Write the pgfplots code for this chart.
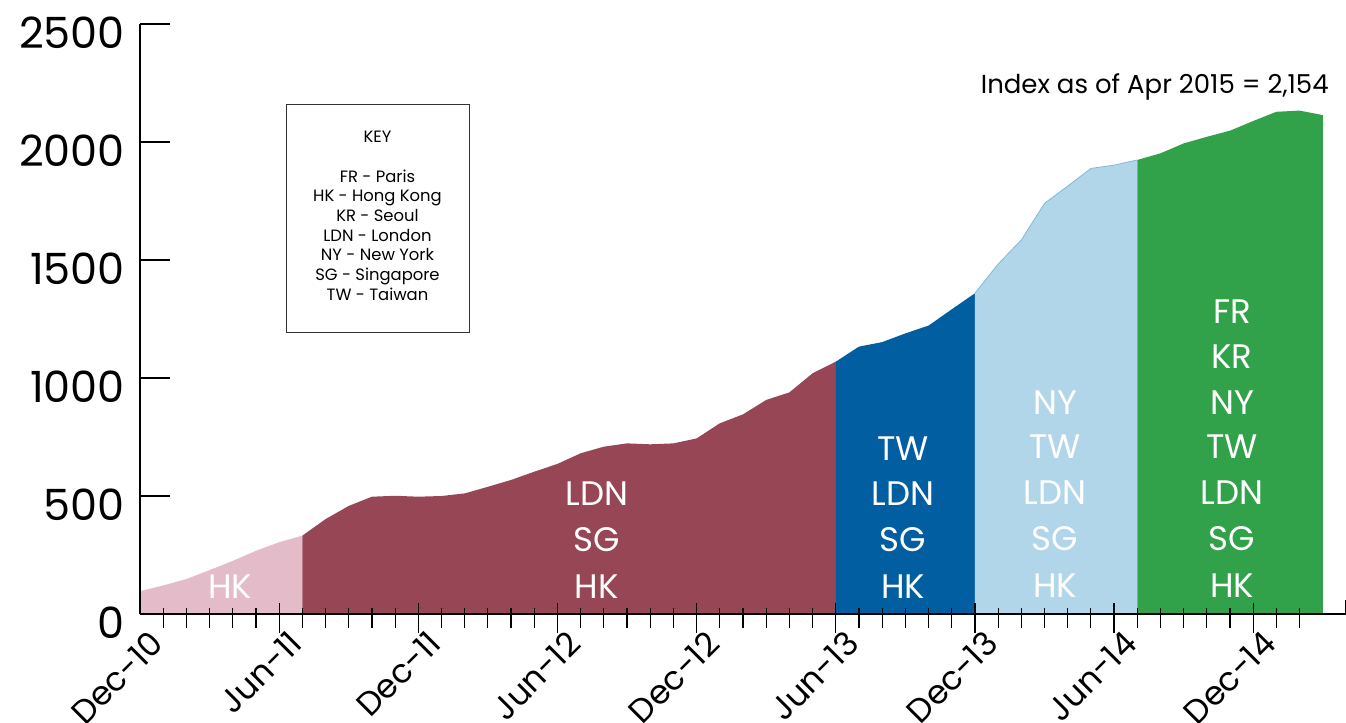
\documentclass[border=0pt]{standalone}
\usepackage{fontspec}
\setmainfont{Poppins}
\usepackage{pgfplots}
\pgfplotsset{compat=1.18}
\definecolor{cpink}{HTML}{E4BBC8}
\definecolor{cmaroon}{HTML}{974655}
\definecolor{cblue}{HTML}{005EA1}
\definecolor{clight}{HTML}{B2D6E9}
\definecolor{cgreen}{HTML}{32A24A}
\tikzset{
  lab/.style={anchor=base, text=white, font=\fontsize{17}{20}\selectfont},
  keyf/.style={anchor=base, font=\fontsize{8.2}{10}\selectfont},
}
\begin{document}
\begin{tikzpicture}
\begin{axis}[
  name=ax, scale only axis, width=603pt, height=295pt,
  xmin=0, xmax=52, ymin=0, ymax=2500,
  axis x line*=bottom, axis y line*=left,
  axis line style={black, line width=0.7pt},
  axis on top,
  ytick={0,500,1000,1500,2000,2500},
  xtick={6,12,...,48},
  xticklabels={Jun-11,Dec-11,Jun-12,Dec-12,Jun-13,Dec-13,Jun-14,Dec-14},
  extra x ticks={0},
  extra x tick labels={Dec-10},
  extra x tick style={xtick style={draw=none}},
  minor xtick={1,...,50},
  major tick length=15pt, minor tick length=10pt,
  xtick align=center, ytick align=inside,
  tick style={black, line width=0.6pt},
  xtick style={yshift=-2pt},
  /pgf/number format/assume math mode=true,
  /pgf/number format/1000 sep={},
  scaled y ticks=false,
  yticklabel style={font=\fontsize{21.5}{24}\selectfont, xshift=-4pt, yshift=-4.5pt},
  xticklabel style={font=\fontsize{16.5}{19}\selectfont, xshift=4pt, yshift=5pt, rotate=45, anchor=north east},
]
% HK
\addplot[fill=cpink, draw=none] coordinates {
(0,97) (1,121) (2,148) (3,186) (4,225) (5,268) (6,304) (7,332)} \closedcycle;
% LDN SG HK
\addplot[fill=cmaroon, draw=none] coordinates {
(7,332) (8,402) (9,458) (10,497) (11,501) (12,497) (13,500) (14,511) (15,539)
(16,568) (17,603) (18,636) (19,681) (20,709) (21,723) (22,719) (23,723) (24,744)
(25,808) (26,846) (27,907) (28,939) (29,1020) (30,1069)} \closedcycle;
% TW LDN SG HK
\addplot[fill=cblue, draw=none] coordinates {
(30,1069) (31,1133) (32,1152) (33,1189) (34,1222) (35,1291) (36,1359)} \closedcycle;
% NY TW LDN SG HK
\addplot[fill=clight, draw=none] coordinates {
(36,1359) (37,1483) (38,1585) (39,1740) (40,1813) (41,1888) (42,1902) (43,1924)} \closedcycle;
\addplot[color=clight!75!cblue, line width=0.4pt] coordinates {
(36,1359) (37,1483) (38,1585) (39,1740) (40,1813) (41,1888) (42,1902) (43,1924)};
% FR KR NY TW LDN SG HK
\addplot[fill=cgreen, draw=none] coordinates {
(43,1924) (44,1952) (45,1994) (46,2022) (47,2048) (48,2089) (49,2128) (50,2133) (51,2114)} \closedcycle;

\node[lab] at (axis cs:3.88,64) {HK};
\node[lab] at (axis cs:19.7,458) {LDN};
\node[lab] at (axis cs:19.7,263) {SG};
\node[lab] at (axis cs:19.7,64) {HK};
\node[lab] at (axis cs:32.9,652) {TW};
\node[lab] at (axis cs:32.9,458) {LDN};
\node[lab] at (axis cs:32.9,263) {SG};
\node[lab] at (axis cs:32.9,64) {HK};
\node[lab] at (axis cs:39.46,847) {NY};
\node[lab] at (axis cs:39.46,661) {TW};
\node[lab] at (axis cs:39.46,466) {LDN};
\node[lab] at (axis cs:39.46,267) {SG};
\node[lab] at (axis cs:39.46,72) {HK};
\node[lab] at (axis cs:47.09,1233) {FR};
\node[lab] at (axis cs:47.09,1042) {KR};
\node[lab] at (axis cs:47.09,847) {NY};
\node[lab] at (axis cs:47.09,657) {TW};
\node[lab] at (axis cs:47.09,462) {LDN};
\node[lab] at (axis cs:47.09,267) {SG};
\node[lab] at (axis cs:47.09,72) {HK};

\draw[black!80, line width=0.5pt] (axis cs:6.30,1191) rectangle (axis cs:14.19,2157);
\node[keyf] at (axis cs:10.24,1996) {KEY};
\node[keyf] at (axis cs:10.24,1830) {FR - Paris};
\node[keyf] at (axis cs:10.24,1747) {HK - Hong Kong};
\node[keyf] at (axis cs:10.24,1664) {KR - Seoul};
\node[keyf] at (axis cs:10.24,1580) {LDN - London};
\node[keyf] at (axis cs:10.24,1497) {NY - New York};
\node[keyf] at (axis cs:10.24,1414) {SG - Singapore};
\node[keyf] at (axis cs:10.24,1330) {TW - Taiwan};

\node[anchor=base east, inner sep=0pt, font=\fontsize{13}{15}\selectfont] at (axis cs:51.27,2207) {Index as of Apr 2015 = 2,154};
\draw[black, line width=0.6pt] (axis cs:52,0) -- (axis cs:52,59);
\end{axis}
\pgfresetboundingbox
\path ([xshift=-70pt,yshift=-54pt]ax.south west) rectangle ([yshift=12pt]ax.north east);
\end{tikzpicture}
\end{document}
